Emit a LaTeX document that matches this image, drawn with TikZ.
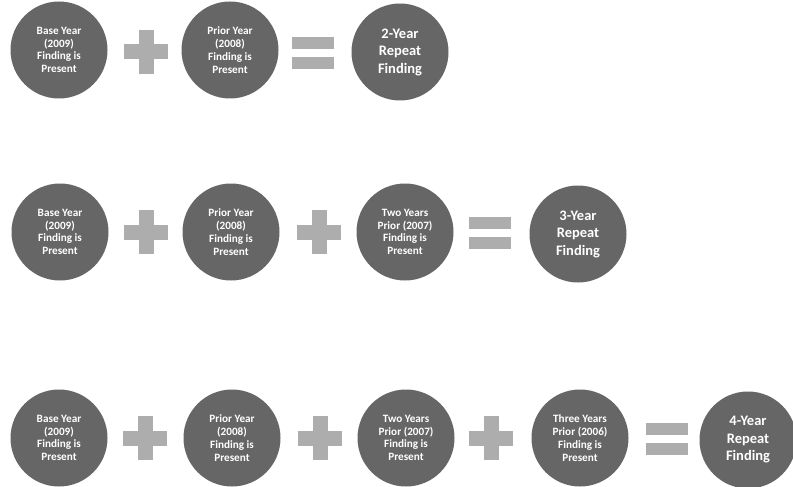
\documentclass[tikz,border=0pt]{standalone}
\usepackage{fontspec}
\setmainfont{Carlito}
\begin{document}
\begin{tikzpicture}[x=1pt,y=-1pt,
  disc/.style={circle,fill=black!60,minimum size=97pt,inner sep=0pt,align=center,
    text=white,font=\bfseries\fontsize{11.2}{12.8}\selectfont},
  bigdisc/.style={disc,font=\bfseries\fontsize{14.5}{17.5}\selectfont},
  signfill/.style={fill=black!32}]
\useasboundingbox (0,0) rectangle (793,487);
\newcommand{\plussign}[2]{%
  \fill[signfill] (#1-7.5,#2-22) rectangle (#1+7.5,#2+22);
  \fill[signfill] (#1-22,#2-7.5) rectangle (#1+22,#2+7.5);}
\newcommand{\eqsign}[2]{%
  \fill[signfill] (#1-21,#2-15) rectangle (#1+21,#2-3);
  \fill[signfill] (#1-21,#2+5) rectangle (#1+21,#2+17);}
% Row 1
\node[disc] (a1) at (59,50) {Base Year\\(2009)\\Finding is\\Present};
\node[disc] (a2) at (230,50) {Prior Year\\(2008)\\Finding is\\Present};
\node[bigdisc] (a3) at (400,52) {2-Year\\Repeat\\Finding};
\plussign{146}{52}
\eqsign{313}{52}
% Row 2
\node[disc] (b1) at (60,232) {Base Year\\(2009)\\Finding is\\Present};
\node[disc] (b2) at (231,232) {Prior Year\\(2008)\\Finding is\\Present};
\node[disc] (b3) at (405,232) {Two Years\\Prior (2007)\\Finding is\\Present};
\node[bigdisc] (b4) at (578,234) {3-Year\\Repeat\\Finding};
\plussign{146}{232}
\plussign{319}{232}
\eqsign{490}{232}
% Row 3
\node[disc] (c1) at (59,438) {Base Year\\(2009)\\Finding is\\Present};
\node[disc] (c2) at (232,438) {Prior Year\\(2008)\\Finding is\\Present};
\node[disc] (c3) at (406,438) {Two Years\\Prior (2007)\\Finding is\\Present};
\node[disc] (c4) at (580,438) {Three Years\\Prior (2006)\\Finding is\\Present};
\node[bigdisc] (c5) at (748,440) {4-Year\\Repeat\\Finding};
\plussign{145}{438}
\plussign{320}{438}
\plussign{491}{438}
\eqsign{667}{438}
\end{tikzpicture}
\end{document}
